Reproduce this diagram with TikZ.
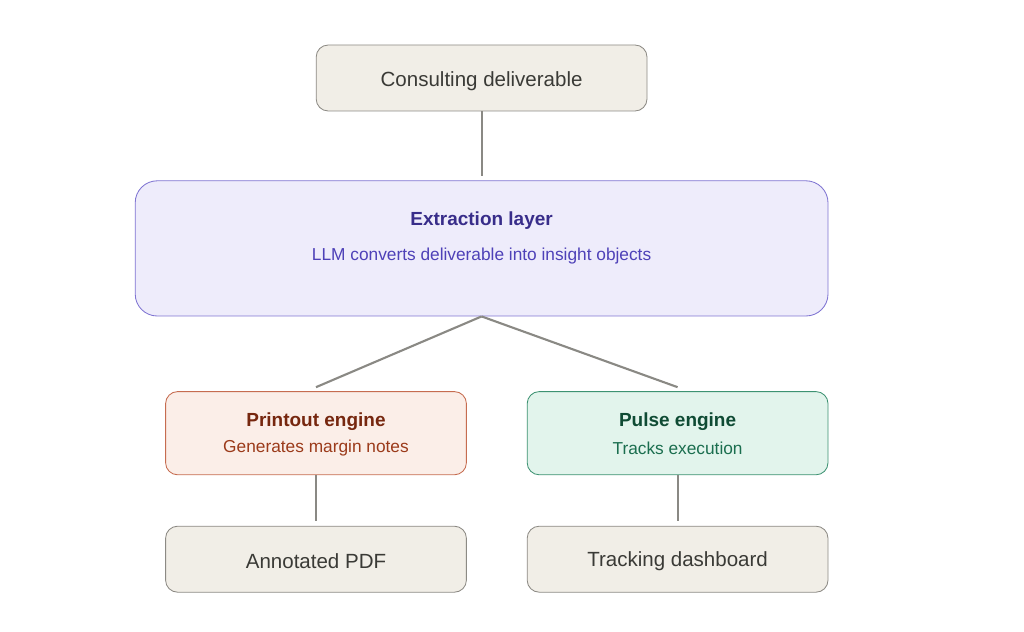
\documentclass[tikz,border=0pt]{standalone}
\usepackage{fontspec}
\setmainfont{Liberation Sans}
\usepackage{tikz}

\definecolor{neutralfill}{HTML}{F1EEE7}
\definecolor{neutraldraw}{HTML}{8C8A84}
\definecolor{neutraltext}{HTML}{3A3A36}
\definecolor{extfill}{HTML}{EEECFB}
\definecolor{extdraw}{HTML}{7F74D2}
\definecolor{exttitle}{HTML}{382D8A}
\definecolor{extsub}{HTML}{4E41B8}
\definecolor{prnfill}{HTML}{FBEEE8}
\definecolor{prndraw}{HTML}{C66C50}
\definecolor{prntitle}{HTML}{76270F}
\definecolor{prnsub}{HTML}{9B3A1A}
\definecolor{plsfill}{HTML}{E2F4EC}
\definecolor{plsdraw}{HTML}{3D9272}
\definecolor{plstitle}{HTML}{0F4B34}
\definecolor{plssub}{HTML}{1B6E4F}
\definecolor{linkgray}{HTML}{8A8984}

\tikzset{
	box/.style={draw, rounded corners=0.3cm, line width=0.6pt, inner sep=0pt},
	plainbox/.style={box, fill=neutralfill, draw=neutraldraw, minimum width=8.27cm, minimum height=1.65cm},
	plaintext/.style={text=neutraltext, font=\fontsize{14.6}{17}\selectfont},
	ttl/.style={font=\fontsize{13.5}{16}\selectfont\bfseries},
	sub/.style={font=\fontsize{12.3}{15}\selectfont},
	link/.style={draw=linkgray, line width=1.5pt}
}

\begin{document}
\begin{tikzpicture}
		\useasboundingbox (0,0) rectangle (25.6,-15.8);
		% source document
		\node[plainbox] (deliv) at (12.04,-1.95) {};
		\node[plaintext] (delivT) at (12.04,-2.02) {Consulting deliverable};
		% extraction layer
		\node[box, rounded corners=0.55cm, fill=extfill, draw=extdraw,
			minimum width=17.32cm, minimum height=3.38cm] (extract) at (12.04,-6.21) {};
		\node[ttl, text=exttitle] (extractT) at (12.04,-5.52) {Extraction layer};
		\node[sub, text=extsub] (extractS) at (12.04,-6.39) {LLM converts deliverable into insight objects};
		% engines
		\node[box, fill=prnfill, draw=prndraw, minimum width=7.52cm, minimum height=2.08cm] (printout) at (7.9,-10.83) {};
		\node[ttl, text=prntitle] (printoutT) at (7.9,-10.55) {Printout engine};
		\node[sub, text=prnsub] (printoutS) at (7.9,-11.21) {Generates margin notes};
		\node[box, fill=plsfill, draw=plsdraw, minimum width=7.52cm, minimum height=2.08cm] (pulse) at (16.94,-10.83) {};
		\node[ttl, text=plstitle] (pulseT) at (16.94,-10.55) {Pulse engine};
		\node[sub, text=plssub] (pulseS) at (16.94,-11.21) {Tracks execution};
		% outputs
		\node[plainbox, minimum width=7.52cm] (pdf) at (7.9,-13.98) {};
		\node[plaintext] (pdfT) at (7.9,-14.04) {Annotated PDF};
		\node[plainbox, minimum width=7.52cm] (dash) at (16.94,-13.98) {};
		\node[plaintext] (dashT) at (16.94,-14.04) {Tracking dashboard};
		% links
		\draw[link] (deliv.south) -- ([yshift=0.1cm]extract.north);
		\draw[link] (extract.south) -- ([yshift=0.1cm]printout.north);
		\draw[link] (extract.south) -- ([yshift=0.1cm]pulse.north);
		\draw[link] (printout.south) -- ([yshift=0.12cm]pdf.north);
		\draw[link] (pulse.south) -- ([yshift=0.12cm]dash.north);
	\end{tikzpicture}
\end{document}
